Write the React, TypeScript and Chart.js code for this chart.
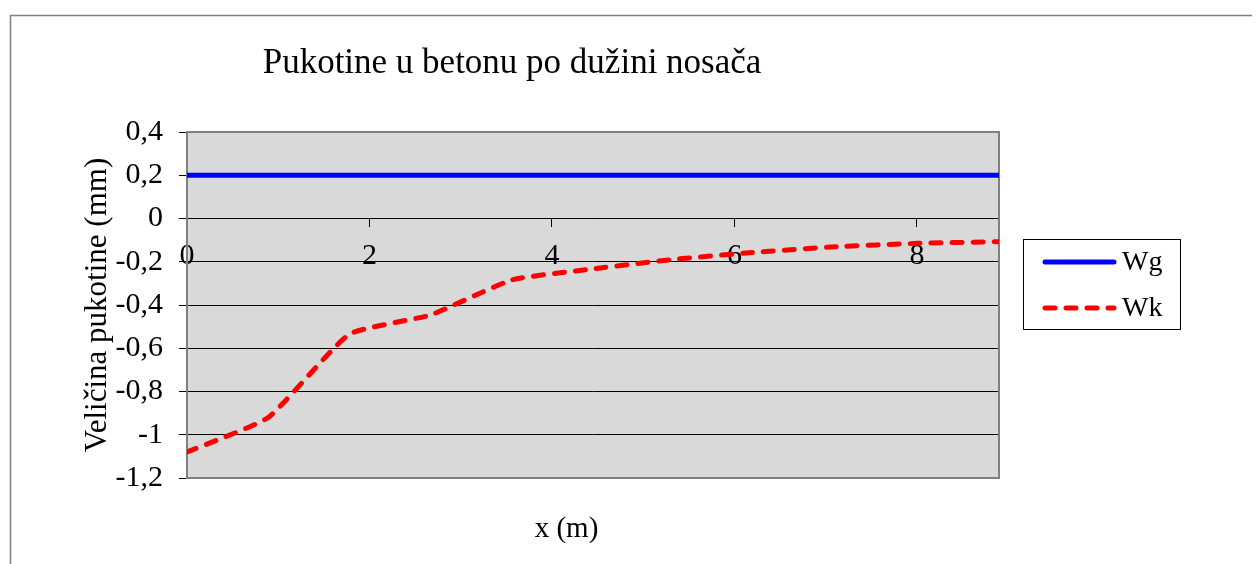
import React, { useEffect, useRef } from "react";
import { Chart, registerables } from "chart.js";

Chart.register(...registerables);

const chartTitle = "Pukotine u betonu po dužini nosača";
const xAxisTitle = "x (m)";
const yAxisTitle = "Veličina pukotine (mm)";

const xValues = [0, 0.89, 1.78, 2.67, 3.56, 4.45, 5.34, 6.23, 7.12, 8.01, 8.9];
const wgValues = [0.2, 0.2, 0.2, 0.2, 0.2, 0.2, 0.2, 0.2, 0.2, 0.2, 0.2];
const wkValues = [-1.08, -0.92, -0.535, -0.446, -0.284, -0.233, -0.189, -0.156, -0.13, -0.115, -0.107];
const seriesNames = ["Wg", "Wk"];

const xMin = 0;
const xMax = 8.9;
const xStep = 2;
const yMin = -1.2;
const yMax = 0.4;
const yStep = 0.2;

const FONT = "'Liberation Serif', 'Times New Roman', serif";

const framePlugin = {
  id: "frameAndText",
  beforeDraw(chart: any) {
    const { ctx, chartArea: a, width, height } = chart;
    ctx.save();
    ctx.fillStyle = "#ffffff";
    ctx.fillRect(0, 0, width, height);
    ctx.strokeStyle = "#808080";
    ctx.lineWidth = 1.5;
    ctx.strokeRect(2.5, 7.5, width + 40, height + 40);
    ctx.fillStyle = "#d9d9d9";
    ctx.fillRect(a.left, a.top, a.right - a.left, a.bottom - a.top);
    ctx.restore();
  },
  beforeDatasetsDraw(chart: any) {
    const { ctx, chartArea: a } = chart;
    ctx.save();
    ctx.strokeStyle = "#808080";
    ctx.lineWidth = 2;
    ctx.strokeRect(a.left, a.top, a.right - a.left, a.bottom - a.top);
    ctx.restore();
  },
  afterDraw(chart: any) {
    const { ctx, chartArea: a } = chart;
    ctx.save();
    ctx.fillStyle = "#000";
    // chart title
    ctx.font = `35px ${FONT}`;
    ctx.textAlign = "center";
    ctx.textBaseline = "alphabetic";
    ctx.fillText(chartTitle, 504, 65);
    // x axis title
    ctx.font = `29px ${FONT}`;
    ctx.fillText(xAxisTitle, 558.5, 529);

    // legend
    const lx = a.right + 24;
    const ly = 231;
    const lw = 157;
    const lh = 90;
    ctx.strokeStyle = "#000";
    ctx.lineWidth = 1;
    ctx.strokeRect(lx + 0.5, ly + 0.5, lw, lh);
    const dsets = chart.data.datasets;
    dsets.forEach((ds: any, i: number) => {
      const cy = ly + 23 + i * 46;
      ctx.save();
      ctx.strokeStyle = ds.borderColor;
      ctx.lineWidth = ds.borderWidth;
      ctx.lineCap = "round";
      ctx.setLineDash(ds.borderDash || []);
      ctx.beginPath();
      ctx.moveTo(lx + 22, cy);
      ctx.lineTo(lx + 91, cy);
      ctx.stroke();
      ctx.restore();
      ctx.fillStyle = "#000";
      ctx.font = `28px ${FONT}`;
      ctx.textAlign = "left";
      ctx.textBaseline = "middle";
      ctx.fillText(ds.label, lx + 99, cy + 1);
    });
    ctx.restore();
  },
};

const fmt = (v: any) => {
  const n = Math.round(Number(v) * 10) / 10;
  return String(n).replace(".", ",");
};

export default function App() {
  const ref = useRef<HTMLCanvasElement | null>(null);

  useEffect(() => {
    document.documentElement.style.overflow = "hidden";
    document.body.style.overflow = "hidden";
    if (!ref.current) return;
    const chart = new Chart(ref.current, {
      type: "line",
      data: {
        datasets: [
          {
            label: seriesNames[0],
            data: xValues.map((x, i) => ({ x, y: wgValues[i] })),
            borderColor: "#0000ff",
            backgroundColor: "#0000ff",
            borderWidth: 5,
            pointRadius: 0,
            tension: 0,
            fill: false,
          },
          {
            label: seriesNames[1],
            data: xValues.map((x, i) => ({ x, y: wkValues[i] })),
            borderColor: "#ff0000",
            backgroundColor: "#ff0000",
            borderWidth: 5,
            borderDash: [10, 11],
            borderCapStyle: "round",
            pointRadius: 0,
            tension: 0.15,
            fill: false,
          },
        ],
      },
      options: {
        animation: false,
        responsive: true,
        maintainAspectRatio: false,
        layout: { padding: { top: 124, bottom: 86, left: 0, right: 261 } },
        plugins: {
          legend: { display: false },
          title: { display: false },
          tooltip: { enabled: false },
        },
        scales: {
          x: {
            type: "linear",
            min: xMin,
            max: xMax,
            position: { y: 0 },
            afterFit: (s: any) => {
              s.height = 0;
            },
            ticks: {
              stepSize: xStep,
              includeBounds: false,
              color: "#000",
              padding: 12,
              font: { family: FONT, size: 30 },
              maxRotation: 0,
              autoSkip: false,
            },
            grid: {
              drawOnChartArea: false,
              drawTicks: true,
              tickLength: 8,
              color: "#000",
              lineWidth: 1,
            },
            border: { display: true, color: "#000", width: 1 },
          },
          y: {
            type: "linear",
            min: yMin,
            max: yMax,
            afterFit: (s: any) => {
              s.width = 179;
            },
            ticks: {
              stepSize: yStep,
              color: "#000",
              padding: 16,
              font: { family: FONT, size: 30 },
              callback: (v: any) => fmt(v),
            },
            grid: {
              color: "#000",
              lineWidth: 1,
              drawTicks: true,
              tickLength: 8,
            },
            border: { display: true, color: "#808080", width: 2 },
            title: {
              display: true,
              text: yAxisTitle,
              color: "#000",
              font: { family: FONT, size: 31 },
              padding: { top: 71, bottom: 0 },
            },
          },
        },
      },
      plugins: [framePlugin],
    } as any);
    return () => chart.destroy();
  }, []);

  return (
    <div style={{ width: 1252, height: 556, position: "relative" }}>
      <canvas ref={ref} />
    </div>
  );
}
